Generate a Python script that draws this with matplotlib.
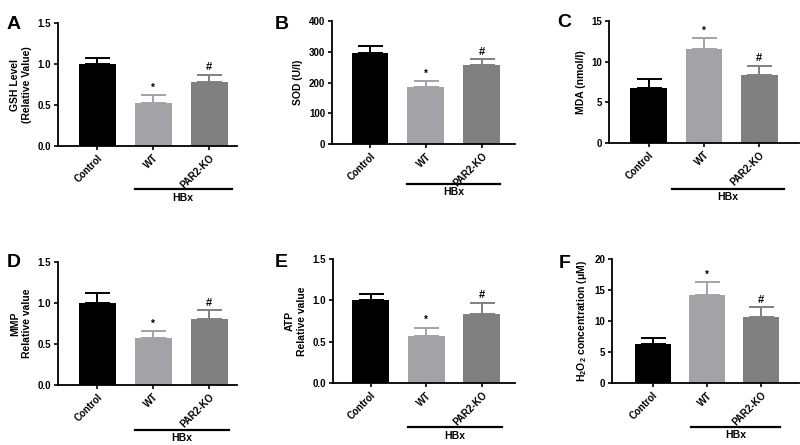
import matplotlib
matplotlib.use("Agg")
import matplotlib.pyplot as plt
import matplotlib.transforms as mtransforms

plt.rcParams['font.family'] = ['Liberation Sans', 'DejaVu Sans']
plt.rcParams['font.weight'] = 'bold'
plt.rcParams['mathtext.fontset'] = 'custom'
plt.rcParams['mathtext.bf'] = 'Liberation Sans:bold'
plt.rcParams['mathtext.rm'] = 'Liberation Sans:bold'

groups = ["Control", "WT", "PAR2-KO"]
bar_colors = ["#000000", "#a3a3a7", "#808080"]
marks = ["", "*", "#"]

gsh_mean = [1.00, 0.52, 0.78]
gsh_err = [0.07, 0.10, 0.09]
sod_mean = [296, 185, 256]
sod_err = [22, 19, 20]
mda_mean = [6.7, 11.6, 8.3]
mda_err = [1.1, 1.3, 1.2]
mmp_mean = [1.00, 0.57, 0.80]
mmp_err = [0.12, 0.09, 0.11]
atp_mean = [1.00, 0.57, 0.84]
atp_err = [0.08, 0.10, 0.13]
h2o2_mean = [6.3, 14.2, 10.6]
h2o2_err = [1.0, 2.1, 1.6]

# letter, means, errs, ylabel, ymax, ystep, ytick fmt, axes rect, xlim, hbx line y, hbx x span
panels = [
    ("A", gsh_mean, gsh_err, "GSH Level\n(Relative Value)", 1.5, 0.5, "{:.1f}",
     [0.0725, 0.672, 0.224, 0.276], (-0.7, 2.5), -0.35, (0.67, 2.4)),
    ("B", sod_mean, sod_err, "SOD (U/l)", 400, 100, "{:.0f}",
     [0.415, 0.676, 0.229, 0.277], (-0.68, 2.6), -0.32, (0.67, 2.33)),
    ("C", mda_mean, mda_err, "MDA (nmol/l)", 15, 5, "{:.0f}",
     [0.761, 0.679, 0.238, 0.274], (-0.72, 2.72), -0.375, (0.42, 2.45)),
    ("D", mmp_mean, mmp_err, "MMP\nRelative value", 1.5, 0.5, "{:.1f}",
     [0.0725, 0.135, 0.224, 0.276], (-0.7, 2.5), -0.365, (0.67, 2.36)),
    ("E", atp_mean, atp_err, "ATP\nRelative value", 1.5, 0.5, "{:.1f}",
     [0.416, 0.139, 0.228, 0.279], (-0.68, 2.6), -0.355, (0.67, 2.36)),
    ("F", h2o2_mean, h2o2_err, r"$\mathbf{H_2O_2}$ concentration (μM)", 20, 5, "{:.0f}",
     [0.765, 0.139, 0.234, 0.279], (-0.75, 2.7), -0.35, (0.7, 2.35)),
]

letter_pos = {"A": (0.008, 0.945), "B": (0.343, 0.945), "C": (0.697, 0.950),
              "D": (0.008, 0.41), "E": (0.343, 0.41), "F": (0.699, 0.408)}

fig = plt.figure(figsize=(8, 4.45), dpi=100)

for letter, means, errs, ylab, ymax, ystep, fmt, rect, xlim, hby, hbspan in panels:
    ax = fig.add_axes(rect)
    x = list(range(len(groups)))
    ax.bar(x, means, width=0.66, color=bar_colors, zorder=2)
    for xi, m, e, c in zip(x, means, errs, bar_colors):
        ax.errorbar(xi, m, yerr=[[0], [e]], fmt="none", ecolor=c,
                    elinewidth=1.4, capsize=9, capthick=1.4, zorder=1)
    for xi, m, e, mk in zip(x, means, errs, marks):
        if mk:
            ax.text(xi, m + e + ymax * 0.02, mk, ha="center", va="bottom",
                    fontsize=8 if mk == "#" else 7, fontweight="bold")
    ax.set_xlim(*xlim)
    ax.set_ylim(0, ymax)
    yt = [ystep * i for i in range(int(round(ymax / ystep)) + 1)]
    ax.set_yticks(yt)
    ax.set_yticklabels([fmt.format(v) for v in yt], fontsize=7, fontweight="bold")
    ax.set_xticks(x)
    ax.set_xticklabels(groups, rotation=45, ha="right", rotation_mode="anchor",
                       fontsize=7, fontweight="bold")
    ax.set_ylabel(ylab, fontsize=7.5, fontweight="bold", labelpad=4)
    ax.spines["top"].set_visible(False)
    ax.spines["right"].set_visible(False)
    ax.spines["left"].set_linewidth(1.3)
    ax.spines["bottom"].set_linewidth(1.3)
    ax.tick_params(width=1.2, length=3, pad=2)

    trans = mtransforms.blended_transform_factory(ax.transData, ax.transAxes)
    ax.plot(hbspan, [hby, hby], color="black", lw=1.6, transform=trans, clip_on=False)
    ax.text((hbspan[0] + hbspan[1]) / 2, hby - 0.03, "HBx", transform=trans,
            ha="center", va="top", fontsize=7.5, fontweight="bold")

    lx, ly = letter_pos[letter]
    fig.text(lx, ly, letter, fontsize=14, fontweight="bold", ha="left", va="center")

fig.savefig("out.png", dpi=100)
